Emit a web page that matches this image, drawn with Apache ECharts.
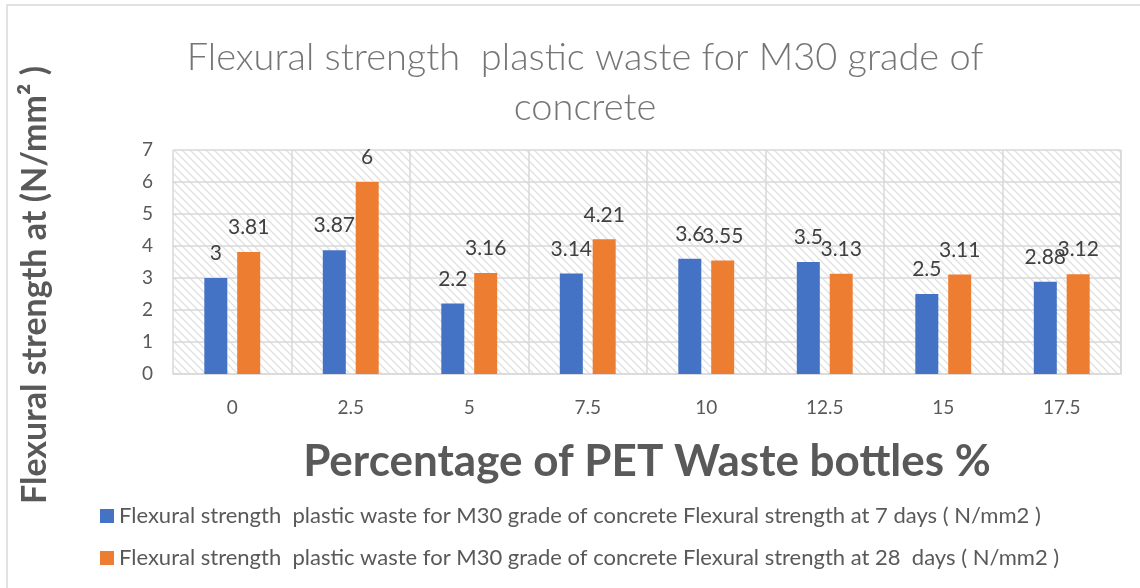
<!DOCTYPE html>
<html>
<head>
<meta charset="utf-8">
<script src="https://cdn.jsdelivr.net/npm/echarts@6/dist/echarts.min.js"></script>
<style>
  html, body { margin: 0; padding: 0; background: #fff; }
  #chart { width: 1140px; height: 588px; }
</style>
</head>
<body>
<div id="chart"></div>
<script>
// data
const categories = ['0', '2.5', '5', '7.5', '10', '12.5', '15', '17.5'];
const days7 = [3, 3.87, 2.2, 3.14, 3.6, 3.5, 2.5, 2.88];
const days28 = [3.81, 6, 3.16, 4.21, 3.55, 3.13, 3.11, 3.12];
const seriesNames = [
  'Flexural strength  plastic waste for M30 grade of concrete Flexural strength at 7 days ( N/mm2 )',
  'Flexural strength  plastic waste for M30 grade of concrete Flexural strength at 28  days ( N/mm2 )'
];

const FONT = 'Lato';
const TEXT = '#595959';

// hatch pattern for plot area (light downward diagonal)
function makeHatch() {
  const c = document.createElement('canvas');
  c.width = 8; c.height = 8;
  const ctx = c.getContext('2d');
  ctx.fillStyle = '#ffffff';
  ctx.fillRect(0, 0, 8, 8);
  ctx.strokeStyle = '#e0e0e0';
  ctx.lineWidth = 1.3;
  ctx.beginPath();
  ctx.moveTo(-2, -2); ctx.lineTo(10, 10);
  ctx.moveTo(-10, -2); ctx.lineTo(2, 10);
  ctx.moveTo(6, -2); ctx.lineTo(18, 10);
  ctx.stroke();
  return c;
}

const chart = echarts.init(document.getElementById('chart'));

const labelStyle = {
  show: true,
  position: 'top',
  distance: 14,
  fontFamily: FONT,
  fontSize: 21,
  color: '#404040'
};

chart.setOption({
  animation: false,
  backgroundColor: '#fff',
  title: {
    text: 'Flexural strength  plastic waste for M30 grade of\nconcrete',
    left: 580,
    top: 28,
    textAlign: 'center',
    textStyle: {
      fontFamily: FONT,
      fontWeight: 300,
      fontSize: 38,
      lineHeight: 50,
      color: '#757575'
    }
  },
  legend: {
    orient: 'vertical',
    left: 95,
    top: 500,
    itemWidth: 14,
    itemHeight: 14,
    itemGap: 20,
    icon: 'rect',
    textStyle: { fontFamily: FONT, fontSize: 22, color: TEXT },
    data: seriesNames
  },
  grid: {
    left: 173,
    right: 19,
    top: 150,
    height: 224,
    show: true,
    borderWidth: 0,
    backgroundColor: { image: makeHatch(), repeat: 'repeat' }
  },
  xAxis: {
    type: 'category',
    data: categories,
    name: 'Percentage of PET Waste bottles %',
    nameLocation: 'middle',
    nameGap: 66,
    nameTextStyle: { fontFamily: FONT, fontWeight: 'bold', fontSize: 44, color: TEXT },
    axisLine: { lineStyle: { color: '#d9d9d9', width: 1.5 } },
    axisTick: { show: false },
    axisLabel: { fontFamily: FONT, fontSize: 19, color: TEXT, margin: 24 },
    splitLine: { show: true, lineStyle: { color: '#d9d9d9', width: 1.5 } }
  },
  yAxis: {
    type: 'value',
    min: 0,
    max: 7,
    interval: 1,
    axisLine: { show: false },
    axisTick: { show: false },
    axisLabel: { fontFamily: FONT, fontSize: 19, color: TEXT, margin: 20 },
    splitLine: { lineStyle: { color: '#d9d9d9', width: 1.5 } }
  },
  graphic: [
    {
      type: 'rect',
      shape: { x: 7, y: 5, width: 1140, height: 600 },
      style: { fill: 'none', stroke: '#d9d9d9', lineWidth: 1.5 },
      silent: true
    },
    {
      type: 'text',
      x: 35,
      y: 285,
      rotation: Math.PI / 2,
      style: {
        text: 'Flexural strength at (N/mm² )',
        fontFamily: FONT,
        fontWeight: 'bold',
        fontSize: 34,
        fill: TEXT,
        align: 'center',
        verticalAlign: 'middle'
      }
    },
    {
      // right edge of plot area
      type: 'line',
      shape: { x1: 1121, y1: 150, x2: 1121, y2: 374 },
      style: { stroke: '#d9d9d9', lineWidth: 1.5 },
      silent: true
    }
  ],
  series: [
    {
      name: seriesNames[0],
      type: 'bar',
      data: days7,
      barWidth: 23,
      barGap: '43%',
      itemStyle: { color: '#4472C4' },
      label: labelStyle
    },
    {
      name: seriesNames[1],
      type: 'bar',
      data: days28,
      barWidth: 23,
      barGap: '43%',
      itemStyle: { color: '#ED7D31' },
      label: labelStyle
    }
  ]
});
</script>
</body>
</html>
